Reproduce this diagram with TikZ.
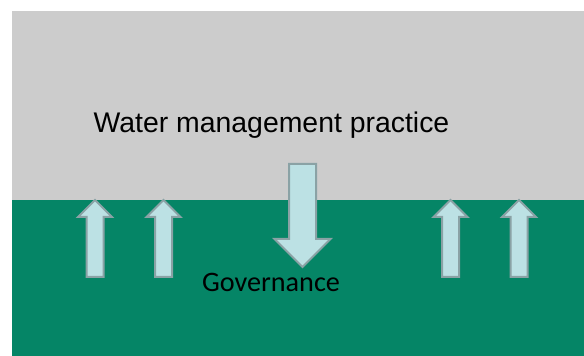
\documentclass[tikz,border=0pt]{standalone}
\usepackage{fontspec}
\setmainfont{Liberation Sans}
\newfontfamily\govfont{Carlito}
\usetikzlibrary{shapes.arrows, positioning}

\definecolor{practicegray}{RGB}{204,204,204}
\definecolor{govgreen}{RGB}{5,133,102}
\definecolor{arrowfill}{RGB}{188,225,228}
\definecolor{arrowline}{RGB}{138,162,165}

\begin{document}
\begin{tikzpicture}[
    x=1pt, y=1pt,
    flow/.style={single arrow, draw=arrowline, fill=arrowfill, line width=2pt,
                 single arrow tip angle=90, anchor=tail},
    uparrow/.style={flow, shape border rotate=90, inner sep=7.5pt,
                    single arrow head extend=8.5pt, minimum height=77pt},
    downarrow/.style={flow, shape border rotate=270, inner sep=12.5pt,
                      single arrow head extend=14.5pt, minimum height=103pt},
]
\useasboundingbox (0,0) rectangle (584,356);

% layers
\fill[practicegray] (12,156) rectangle (584,345);
\fill[govgreen] (12,0) rectangle (584,156);

\node[font=\fontsize{28.4}{34}\selectfont, anchor=base] (practice) at (271.5,223) {Water management practice};
\node[font=\govfont\fontsize{28.2}{34}\selectfont, anchor=base] (governance) at (271,64) {Governance};

% influence arrows
\node[uparrow] (up1) at (95,78) {};
\node[uparrow] (up2) at (163.5,78) {};
\node[uparrow] (up3) at (450.5,78) {};
\node[uparrow] (up4) at (519,78) {};
\node[downarrow] (down) at (302.5,193) {};

\end{tikzpicture}
\end{document}
